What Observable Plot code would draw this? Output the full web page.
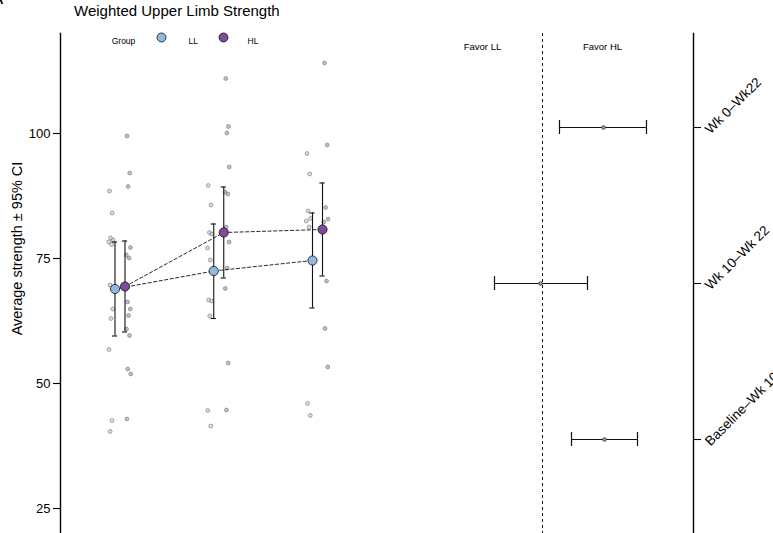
<!DOCTYPE html>
<html>
<head>
<meta charset="utf-8">
<script src="https://cdn.jsdelivr.net/npm/d3@7"></script>
<script src="https://cdn.jsdelivr.net/npm/@observablehq/plot@0.6"></script>
<style>
  html, body { margin: 0; padding: 0; background: #fff; overflow: hidden; }
  #wrap { position: relative; width: 773px; height: 533px; overflow: hidden;
          font-family: "Liberation Sans", Arial, sans-serif; color: #000; }
  #wrap svg { position: absolute; top: 0; }
  #title { position: absolute; left: 74px; top: 2px; font-size: 15px; white-space: nowrap; }
  #tag { position: absolute; left: -6px; top: -8px; font-size: 13px; font-weight: bold; }
</style>
</head>
<body>
<div id="wrap">
  <div id="tag">A</div>
  <div id="title">Weighted Upper Limb Strength</div>
</div>
<script>
// Time points (0, 10 and 22 weeks) drawn as positions 1, 2, 3
const times = [1, 2, 3];
const groups = ["LL", "HL"];
const groupColors = ["#93b8db", "#7c4a9e"];

// Individual participant strength values per time point
const rawLL = [
  [88.5, 84.1, 79.1, 78.7, 78.3, 77.8, 69.7, 64.9, 63.0, 56.8, 42.6, 40.4],
  [89.6, 85.7, 80.2, 79.9, 77.1, 74.7, 66.7, 66.5, 63.5, 44.6, 41.5],
  [96.0, 91.9, 84.5, 83.0, 82.5, 81.3, 46.0, 43.6]
];
const rawHL = [
  [99.5, 92.1, 89.4, 77.2, 75.7, 75.1, 66.3, 64.9, 63.6, 60.9, 59.6, 52.9, 51.9, 42.9],
  [111.0, 101.4, 100.1, 93.3, 88.3, 87.9, 81.3, 78.3, 73.1, 69.0, 54.1, 44.7],
  [114.1, 97.7, 85.2, 82.9, 82.3, 70.5, 61.0, 53.3]
];

// Group means with 95% confidence limits
const meanLL = [68.9, 72.5, 74.6];
const lowLL  = [59.5, 63.0, 65.1];
const highLL = [78.3, 81.9, 84.1];
const meanHL = [69.4, 80.2, 80.8];
const lowHL  = [60.3, 71.1, 71.5];
const highHL = [78.5, 89.3, 90.1];

// Between-group contrasts (HL minus LL) with 95% CI
const contrasts = ["Wk 0\u2013Wk22", "Wk 10\u2013Wk 22", "Baseline\u2013Wk 10"];
const estimate = [6.1, -0.2, 6.2];
const estLow   = [1.7, -4.8, 2.9];
const estHigh  = [10.4, 4.5, 9.5];

const yTicks = [25, 50, 75, 100];
const fontFamily = '"Liberation Sans", Arial, sans-serif';

// ---- tables built from the arrays above ----
const jitterPx = [-1.5, 1.2, -0.4, 2.0, -2.2, 0.6, -1.0, 1.8, 0.0, -2.0, 1.0, -0.8, 2.2, -1.6];
const xScaleLeft = {domain: [1, 3], range: [119.5, 317]};
const pxPerTime = (xScaleLeft.range[1] - xScaleLeft.range[0]) / 2;

function rawRows(raw, group) {
  return raw.flatMap((vals, t) => vals.map((v, i) => ({
    group, time: times[t], value: v, jit: jitterPx[i % jitterPx.length] / pxPerTime
  })));
}
function summaryRows(mean, low, high, group) {
  return times.map((t, i) => ({group, time: t, mean: mean[i], low: low[i], high: high[i]}));
}
const raw = {LL: rawRows(rawLL, "LL"), HL: rawRows(rawHL, "HL")};
const summ = {LL: summaryRows(meanLL, lowLL, highLL, "LL"), HL: summaryRows(meanHL, lowHL, highHL, "HL")};
const dodgeRaw = {LL: -9, HL: 8.5};
const dodgeMean = {LL: -5, HL: 5};
const capHalf = 2.6 / pxPerTime;

const groupMarks = groups.map((g, gi) =>
  Plot.dot(raw[g], {
    x: d => d.time + d.jit, y: "value", dx: dodgeRaw[g], r: 1.9,
    fill: groupColors[gi], fillOpacity: 0.4, stroke: "#858585", strokeWidth: 0.75
  })
);
const summaryMarks = groups.flatMap((g) => [
  Plot.line(summ[g], {x: "time", y: "mean", dx: dodgeMean[g], stroke: "#111",
    strokeWidth: 0.9, strokeDasharray: "3.2,2.4"}),
  Plot.ruleX(summ[g], {x: "time", y1: "low", y2: "high", dx: dodgeMean[g], stroke: "#111", strokeWidth: 1.1}),
  Plot.ruleY(summ[g], {y: "low", x1: d => d.time - capHalf, x2: d => d.time + capHalf,
    dx: dodgeMean[g], stroke: "#111", strokeWidth: 1.1}),
  Plot.ruleY(summ[g], {y: "high", x1: d => d.time - capHalf, x2: d => d.time + capHalf,
    dx: dodgeMean[g], stroke: "#111", strokeWidth: 1.1})
]);
const meanDots = groups.map((g, gi) =>
  Plot.dot(summ[g], {x: "time", y: "mean", dx: dodgeMean[g], r: 4.6,
    fill: groupColors[gi], stroke: "#111", strokeWidth: 0.8})
);

// Legend row along the top of the left panel
const legendMarks = [
  Plot.text(["Group"], {frameAnchor: "top-left", dx: 63, dy: 4, fontSize: 8.5, fill: "#000", textAnchor: "middle"}),
  ...groups.flatMap((g, gi) => [
    Plot.dot([g], {frameAnchor: "top-left", dx: 101 + gi * 62, dy: 4, r: 4.5,
      fill: groupColors[gi], stroke: "#111", strokeWidth: 0.8}),
    Plot.text([g], {frameAnchor: "top-left", dx: 128 + gi * 59, dy: 4, fontSize: 8.5, fill: "#000", textAnchor: "start"})
  ])
];

const left = Plot.plot({
  width: 420, height: 533,
  marginLeft: 60, marginRight: 0, marginTop: 33, marginBottom: 0,
  style: {fontFamily, fontSize: "13px", background: "transparent", overflow: "visible"},
  x: {...xScaleLeft, axis: null},
  y: {domain: [20, 120], axis: null},
  marks: [
    Plot.frame({anchor: "left", stroke: "#000", strokeWidth: 1.4}),
    Plot.axisY({ticks: yTicks, tickSize: 7, tickPadding: 3, fontSize: 13, fill: "#000", label: null, strokeWidth: 1.1}),
    Plot.text(["Average strength \u00b1 95% CI"], {frameAnchor: "left", textAnchor: "middle",
      dx: -43, dy: -35, rotate: -90, fontSize: 14.5, fill: "#000"}),
    ...groupMarks,
    ...summaryMarks,
    ...meanDots,
    ...legendMarks
  ]
});
left.style.left = "0px";

// Forest panel of contrasts
const rows = contrasts.map((c, i) => ({i, label: c, est: estimate[i], lo: estLow[i], hi: estHigh[i]}));
const capRows = 0.045;
const right = Plot.plot({
  width: 353, height: 533,
  marginLeft: 0, marginRight: 80, marginTop: 33, marginBottom: 0,
  style: {fontFamily, fontSize: "12px", background: "transparent", overflow: "visible"},
  x: {domain: [-10, 15], range: [22, 272], axis: null},
  y: {domain: [0, 2], range: [127, 439], axis: null},
  marks: [
    Plot.frame({anchor: "right", stroke: "#000", strokeWidth: 1.4}),
    Plot.axisY({anchor: "right", ticks: [0, 1, 2], tickFormat: () => "",
      tickSize: 7, label: null, strokeWidth: 1.1}),
    Plot.text(rows, {y: "i", text: "label", frameAnchor: "right", dx: 14, dy: 4,
      rotate: -45, textAnchor: "start", fontSize: 13.5, fill: "#000"}),
    Plot.ruleX([0], {stroke: "#000", strokeWidth: 0.9, strokeDasharray: "3,3"}),
    Plot.ruleY(rows, {y: "i", x1: "lo", x2: "hi", stroke: "#111", strokeWidth: 1.2}),
    Plot.ruleX(rows, {x: "lo", y1: d => d.i - capRows, y2: d => d.i + capRows, stroke: "#111", strokeWidth: 1.2}),
    Plot.ruleX(rows, {x: "hi", y1: d => d.i - capRows, y2: d => d.i + capRows, stroke: "#111", strokeWidth: 1.2}),
    Plot.dot(rows, {x: "est", y: "i", r: 1.8, fill: "#aaa", stroke: "#222", strokeWidth: 0.8}),
    Plot.text(["Favor LL", "Favor HL"], {x: (d, k) => k === 0 ? -6 : 6, frameAnchor: "top",
      dy: 10, fontSize: 9.5, fill: "#000", textAnchor: "middle"})
  ]
});
right.style.left = "420px";

const wrap = document.getElementById("wrap");
wrap.appendChild(left);
wrap.appendChild(right);
</script>
</body>
</html>
